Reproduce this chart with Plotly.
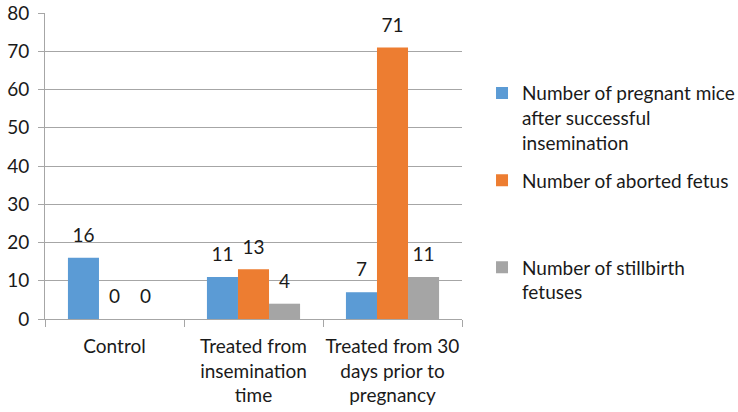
import plotly.graph_objects as go

categories = ["Control", "Treated from<br>insemination<br>time", "Treated from 30<br>days prior to<br>pregnancy"]
pregnant = [16, 11, 7]
aborted = [0, 13, 71]
stillbirth = [0, 4, 11]
series_names = [
    "Number of pregnant mice<br>after successful<br>insemination",
    "Number of aborted fetus<br> <br> ",
    "Number of stillbirth<br>fetuses",
]
colors = ["#5B9BD5", "#ED7D31", "#A5A5A5"]
y_ticks = [0, 10, 20, 30, 40, 50, 60, 70, 80]

FONT = "Lato"
fig = go.Figure()
for i, (vals, name, col) in enumerate(zip([pregnant, aborted, stillbirth], series_names, colors)):
    fig.add_trace(go.Bar(
        x=categories, y=vals, name=name, marker=dict(color=col, line=dict(width=0)),
        legendgroup=f"g{i}", offsetgroup=f"o{i}", hoverinfo="skip",
    ))
for i, vals in enumerate([pregnant, aborted, stillbirth]):
    fig.add_trace(go.Scatter(
        x=categories, y=vals, mode="markers+text", text=[str(v) for v in vals],
        textposition="top center", marker=dict(size=16, opacity=0),
        textfont=dict(family=FONT, size=19, color="#1a1a1a"),
        cliponaxis=False, showlegend=False, offsetgroup=f"o{i}", hoverinfo="skip",
    ))

fig.update_layout(
    width=738, height=412,
    margin=dict(l=45, r=276, t=13, b=93, autoexpand=False),
    paper_bgcolor="white", plot_bgcolor="white",
    barmode="group", bargap=0.33, bargroupgap=0,
    scattermode="group", scattergap=0.33,
    font=dict(family=FONT, size=19, color="#1a1a1a"),
    showlegend=True,
    legend=dict(x=1.048, xanchor="left", y=0.80, yanchor="top",
                font=dict(family=FONT, size=19, color="#1a1a1a"),
                valign="top", tracegroupgap=10, itemwidth=30,
                bgcolor="rgba(0,0,0,0)"),
)
fig.update_xaxes(
    showline=True, linecolor="#A6A6A6", linewidth=1, automargin=False, tickangle=0,
    ticks="outside", tickson="boundaries", ticklen=7, tickcolor="#A6A6A6",
    showgrid=False, tickfont=dict(family=FONT, size=19, color="#1a1a1a"), ticklabelstandoff=10,
)
fig.update_yaxes(
    range=[0, 80], tickvals=y_ticks, showline=True, linecolor="#A6A6A6", linewidth=1,
    ticks="outside", ticklen=6, tickcolor="#A6A6A6", automargin=False,
    showgrid=True, gridcolor="#A6A6A6", gridwidth=1, zeroline=False,
    tickfont=dict(family=FONT, size=19, color="#1a1a1a"), ticklabelstandoff=5,
)
fig.write_html("out.html")
